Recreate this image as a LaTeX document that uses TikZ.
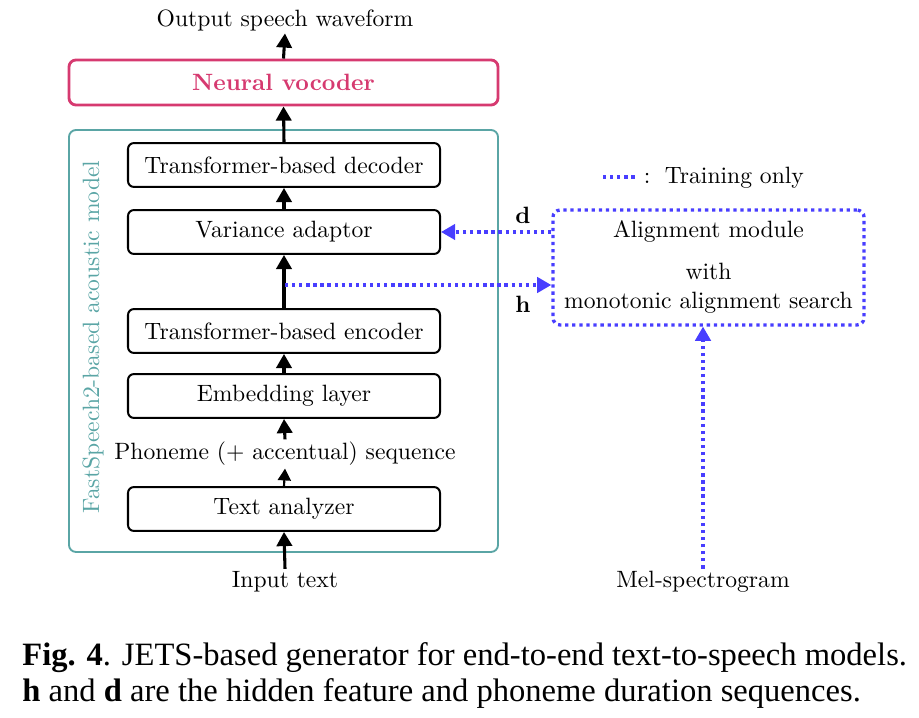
\documentclass[tikz,border=0pt]{standalone}
\usepackage{fontspec}
\newfontfamily\capfont{Liberation Serif}
\usetikzlibrary{arrows.meta}
\definecolor{voc}{RGB}{214,58,112}
\definecolor{tealb}{RGB}{90,165,165}
\definecolor{tblue}{RGB}{72,62,255}
\begin{document}
\begin{tikzpicture}[x=0.4237pt,y=-0.4237pt,
  blk/.style={draw, line width=0.85pt, rounded corners=2.5pt, minimum width=132.2pt, minimum height=18.6pt, inner sep=0pt, font=\fontsize{10}{12}\selectfont},
  txt/.style={inner sep=1pt, font=\fontsize{10}{12}\selectfont},
  arr/.style={line width=1.3pt, -{Triangle[length=6pt,width=6.5pt]}},
  arrthin/.style={line width=0.9pt, -{Triangle[length=5pt,width=5.5pt]}},
  bdot/.style={draw=tblue, line width=1.4pt, dash pattern=on 1.4pt off 1.6pt},
  barr/.style={bdot, -{Triangle[length=6pt,width=6.5pt]}}
]
\useasboundingbox (0,0) rectangle (919,718);
% acoustic model frame
\node[draw=tealb, line width=0.8pt, rounded corners=3pt, minimum width=181.8pt, minimum height=178.8pt, inner sep=0pt] (frame) at (283.5,341) {};
\node[txt, text=tealb, rotate=90] (fslab) at (93,337) {FastSpeech2-based acoustic model};
% vocoder
\node[draw=voc, line width=1.2pt, rounded corners=3pt, minimum width=181.8pt, minimum height=19.1pt, inner sep=0pt, text=voc, font=\fontsize{10}{12}\selectfont\bfseries] (voc) at (283.5,82.5) {Neural vocoder};
% blocks
\node[blk] (dec) at (284,165) {Transformer-based decoder};
\node[blk] (var) at (284,232) {Variance adaptor};
\node[blk] (enc) at (284,331) {Transformer-based encoder};
\node[blk] (emb) at (284,396) {Embedding layer};
\node[blk] (ana) at (284,509) {Text analyzer};
% texts
\node[txt] (out) at (285,20) {Output speech waveform};
\node[txt] (phon) at (285,454) {Phoneme (+ accentual) sequence};
\node[txt] (inp) at (285,582) {Input text};
\node[txt] (mel) at (703,582) {Mel-spectrogram};
% alignment module
\node[bdot, rounded corners=3pt, minimum width=131.8pt, minimum height=48.7pt, inner sep=0pt] (al) at (708.5,267.5) {};
\node[txt] (al1) at (708.5,231) {Alignment module};
\node[txt] (al2) at (708.5,271) {with};
\node[txt] (al3) at (708.5,303) {monotonic alignment search};
% arrows
\draw[arr] (inp.north) -- (ana.south);
\draw[arrthin] (ana.north) -- (phon.south);
\draw[arr] (phon.north) -- (emb.south);
\draw[arr] (emb.north) -- (enc.south);
\draw[arr] (enc.north) -- (var.south);
\draw[arr] (var.north) -- (dec.south);
\draw[arr] (dec.north) -- (voc.south);
\draw[arr] (voc.north) -- (out.south);
% training-only paths
\coordinate (hj) at (285,285);
\draw[barr] (hj) -- (al.west |- hj);
\draw[barr] (al.west |- var.east) -- (var.east);
\draw[barr] (mel.north) -- (mel.north |- al.south);
\node[txt, font=\fontsize{10}{12}\selectfont\bfseries] (dl) at (523,215) {d};
\node[txt, font=\fontsize{10}{12}\selectfont\bfseries] (hl) at (523,304) {h};
% legend
\coordinate (lg1) at (603,177);
\coordinate (lg2) at (636,177);
\draw[bdot] (lg1) -- (lg2);
\node[txt, anchor=west] (lgt) at (641,178) {:\, Training only};
% caption
\node[anchor=west, inner sep=0pt, font=\capfont\fontsize{13.8}{15}\selectfont] (cap1) at (22,658) {\textbf{Fig. 4}. JETS-based generator for end-to-end text-to-speech models.};
\node[anchor=west, inner sep=0pt, font=\capfont\fontsize{13.8}{15}\selectfont] (cap2) at (22,693) {\textbf{h} and \textbf{d} are the hidden feature and phoneme duration sequences.};
\end{tikzpicture}
\end{document}
